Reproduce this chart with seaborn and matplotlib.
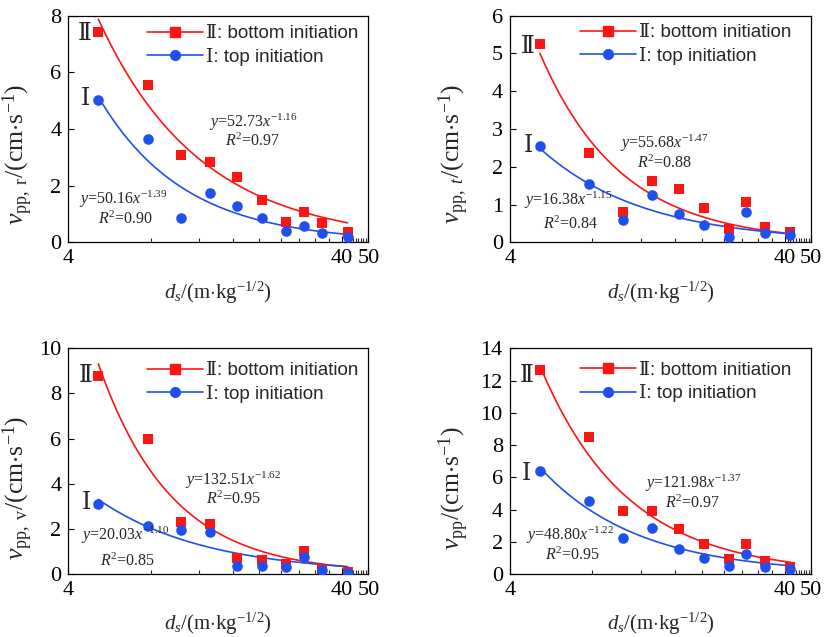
import numpy as np
import pandas as pd
import matplotlib
matplotlib.use("Agg")
import matplotlib.pyplot as plt
import seaborn as sns
from matplotlib.lines import Line2D
from matplotlib.ticker import FixedLocator, NullFormatter

# ---------------- data ----------------
ds = [5.15, 7.8, 10.3, 13.2, 16.5, 20.4, 25.0, 29.0, 33.8, 42.0]

r_bottom = [7.41, 5.55, 3.08, 2.82, 2.32, 1.49, 0.73, 1.08, 0.67, 0.35]
r_top = [5.02, 3.65, 0.86, 1.75, 1.28, 0.85, 0.41, 0.58, 0.34, 0.20]
t_bottom = [5.25, 2.36, 0.79, 1.63, 1.42, 0.90, 0.36, 1.08, 0.41, 0.26]
t_top = [2.55, 1.55, 0.60, 1.24, 0.76, 0.46, 0.14, 0.79, 0.25, 0.19]
v_bottom = [8.77, 5.97, 2.30, 2.20, 0.70, 0.64, 0.45, 1.00, 0.21, 0.11]
v_top = [3.12, 2.12, 1.97, 1.88, 0.36, 0.34, 0.30, 0.74, 0.19, 0.06]
pp_bottom = [12.65, 8.48, 3.90, 3.92, 2.80, 1.85, 0.95, 1.85, 0.82, 0.45]
pp_top = [6.42, 4.50, 2.22, 2.85, 1.52, 1.02, 0.52, 1.22, 0.45, 0.30]

fit_a_bottom = [52.73, 55.68, 132.51, 121.98]
fit_b_bottom = [-1.16, -1.47, -1.62, -1.37]
r2_bottom = ["0.97", "0.88", "0.95", "0.97"]
fit_a_top = [50.16, 16.38, 20.03, 48.80]
fit_b_top = [-1.39, -1.15, -1.10, -1.22]
r2_top = ["0.90", "0.84", "0.85", "0.95"]

y_labels = [r"$v_{\mathrm{pp,\ r}}$/(cm$\cdot$s$^{-1}$)",
            r"$v_{\mathrm{pp,}\ t}$/(cm$\cdot$s$^{-1}$)",
            r"$v_{\mathrm{pp,\ v}}$/(cm$\cdot$s$^{-1}$)",
            r"$v_{\mathrm{pp}}$/(cm$\cdot$s$^{-1}$)"]
y_max = [8, 6, 10, 14]
y_step = [2, 1, 2, 2]
x_tick_vals = [4, 40, 50]
x_tick_labels = ["4", "40", "50"]
legend_labels = ["Ⅱ: bottom initiation", "Ⅰ: top initiation"]
x_label = r"$d_s$/(m$\cdot$kg$^{-1/2}$)"

series = [(r_bottom, r_top), (t_bottom, t_top), (v_bottom, v_top), (pp_bottom, pp_top)]

# ---------------- style ----------------
sns.set_theme(style="ticks")
plt.rcParams["font.family"] = ["Liberation Serif", "DejaVu Serif"]
plt.rcParams["mathtext.fontset"] = "custom"
plt.rcParams["mathtext.rm"] = "Liberation Serif"
plt.rcParams["mathtext.it"] = "Liberation Serif:italic"
plt.rcParams["mathtext.bf"] = "Liberation Serif:bold"

RED = "#ff1414"
BLUE = "#1e50f0"

fig = plt.figure(figsize=(8.26, 6.37), dpi=100)
positions = [
    [0.0827, 0.6196, 0.3632, 0.3557],
    [0.6171, 0.6196, 0.3651, 0.3557],
    [0.0827, 0.0989, 0.3632, 0.3543],
    [0.6171, 0.0989, 0.3651, 0.3543],
]
# annotation placements (axes fraction)
eq_red_pos = [(0.616, 0.53, 0.445), (0.514, 0.435, 0.35), (0.55, 0.415, 0.33), (0.608, 0.40, 0.315)]
eq_blue_pos = [(0.182, 0.19, 0.10), (0.193, 0.185, 0.08), (0.189, 0.17, 0.055), (0.199, 0.17, 0.082)]
roman_pos = [(0.056, 0.915, 0.63), (0.061, 0.86, 0.422), (0.059, 0.875, 0.313), (0.055, 0.875, 0.439)]
legend_anchor = [(0.262, 0.958), (0.232, 0.963), (0.262, 0.938), (0.232, 0.941)]
ylabel_xy = [(-0.112, 0.39), (-0.127, 0.39), (-0.112, 0.38), (-0.127, 0.38)]

for i in range(4):
    ax = fig.add_axes(positions[i])
    yb, yt = series[i]
    df = pd.DataFrame({"ds": ds + ds, "v": yb + yt,
                       "group": ["bottom"] * len(ds) + ["top"] * len(ds)})
    xs = np.geomspace(ds[0], ds[-1], 200)
    fit_df = pd.DataFrame({
        "ds": np.concatenate([xs, xs]),
        "v": np.concatenate([fit_a_bottom[i] * xs ** fit_b_bottom[i],
                             fit_a_top[i] * xs ** fit_b_top[i]]),
        "group": ["bottom"] * len(xs) + ["top"] * len(xs)})
    pal = {"bottom": RED, "top": BLUE}
    sns.lineplot(data=fit_df, x="ds", y="v", hue="group", palette=pal,
                 linewidth=1.2, legend=False, ax=ax, zorder=2)
    sns.scatterplot(data=df[df.group == "bottom"], x="ds", y="v", color=RED,
                    marker="s", s=48, linewidth=0, legend=False, ax=ax, zorder=3)
    sns.scatterplot(data=df[df.group == "top"], x="ds", y="v", color=BLUE,
                    marker="o", s=58, linewidth=0, legend=False, ax=ax, zorder=3)

    ax.set_xscale("log")
    ax.set_xlim(4, 50)
    ax.set_ylim(0, y_max[i])
    ax.set_yticks(np.arange(0, y_max[i] + 0.01, y_step[i]))
    ax.set_xticks(x_tick_vals)
    ax.set_xticklabels(x_tick_labels)
    minors = [8, 12, 16, 20, 24, 28, 32, 36, 41, 42, 43, 44, 45, 46, 47, 48, 49]
    ax.xaxis.set_minor_locator(FixedLocator(minors))
    ax.xaxis.set_minor_formatter(NullFormatter())
    ax.tick_params(axis="both", which="major", direction="in", length=4,
                   width=0.8, labelsize=16, colors="black", pad=5)
    ax.tick_params(axis="x", which="minor", direction="in", length=3, width=0.8)
    ax.tick_params(axis="y", which="minor", length=0)
    for sp in ax.spines.values():
        sp.set_linewidth(0.9)
        sp.set_color("black")
    ax.set_xlabel(x_label, fontsize=15, labelpad=8)
    ax.set_ylabel(y_labels[i], fontsize=18.5)
    ax.yaxis.set_label_coords(*ylabel_xy[i])

    # equations
    fx, fy1, fy2 = eq_red_pos[i]
    ax.text(fx, fy1, r"$y$=%.2f$x^{%.2f}$" % (fit_a_bottom[i], fit_b_bottom[i]),
            transform=ax.transAxes, ha="center", va="center", fontsize=11.5)
    ax.text(fx, fy2, r"$R^{2}$=" + r2_bottom[i],
            transform=ax.transAxes, ha="center", va="center", fontsize=11.5)
    fx, fy1, fy2 = eq_blue_pos[i]
    ax.text(fx, fy1, r"$y$=%.2f$x^{%.2f}$" % (fit_a_top[i], fit_b_top[i]),
            transform=ax.transAxes, ha="center", va="center", fontsize=11.5)
    ax.text(fx + 0.01, fy2, r"$R^{2}$=" + r2_top[i],
            transform=ax.transAxes, ha="center", va="center", fontsize=11.5)
    # roman labels
    rx, ry2, ry1 = roman_pos[i]
    ax.text(rx, ry2, "Ⅱ", transform=ax.transAxes, ha="center", va="center",
            fontsize=17, family=["Liberation Serif", "DejaVu Serif", "Noto Sans CJK SC"])
    ax.text(rx, ry1, "Ⅰ", transform=ax.transAxes, ha="center", va="center",
            fontsize=17, family=["Liberation Serif", "DejaVu Serif", "Noto Sans CJK SC"])

    handles = [Line2D([], [], color=RED, marker="s", markersize=6.5, lw=1.2),
               Line2D([], [], color=BLUE, marker="o", markersize=7, lw=1.2)]
    leg = ax.legend(handles, legend_labels, loc="upper left",
                    bbox_to_anchor=legend_anchor[i], frameon=False,
                    borderpad=0, borderaxespad=0, handlelength=3.0,
                    handletextpad=0.15, labelspacing=0.3,
                    prop={"family": ["Liberation Sans", "DejaVu Serif"], "size": 13.5})

fig.savefig("out.png", dpi=100)
